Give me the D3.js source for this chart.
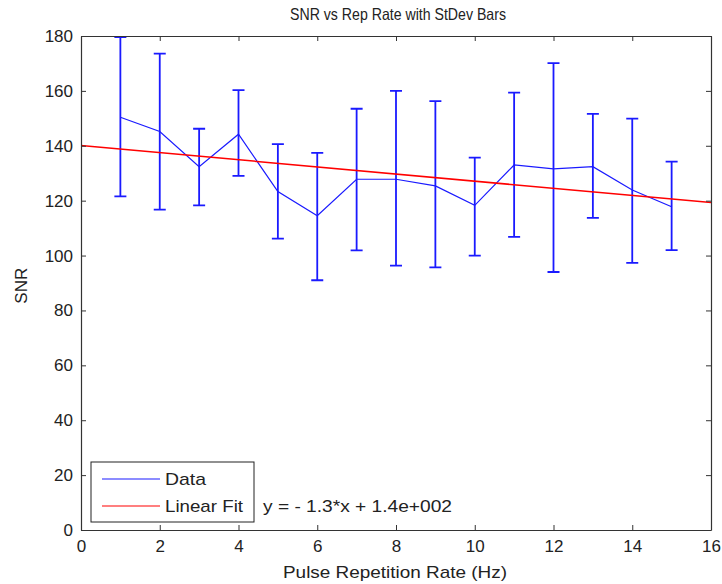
<!DOCTYPE html>
<html>
<head>
<meta charset="utf-8">
<script src="https://cdn.jsdelivr.net/npm/d3@7"></script>
<style>
  body { margin: 0; background: #fff; }
  text { font-family: "Liberation Sans", Arial, sans-serif; }
</style>
</head>
<body>
<div id="chart"></div>
<script>
// pulse rep rate (Hz) and SNR readings
var rates = [1, 2, 3, 4, 5, 6, 7, 8, 9, 10, 11, 12, 13, 14, 15]
var snrMean = [150.4, 145.2, 132.4, 144.2, 123.3, 114.5, 127.8, 127.8, 125.4, 118.3, 133.0, 131.6, 132.4, 123.9, 117.8]
var snrHigh = [179.6, 173.6, 146.2, 160.3, 140.6, 137.4, 153.5, 160.0, 156.3, 135.7, 159.4, 170.1, 151.6, 149.9, 134.2]
var snrLow = [121.6, 116.7, 118.3, 129.0, 106.2, 91.0, 101.9, 96.3, 95.7, 100.0, 106.8, 94.0, 113.7, 97.3, 102.0]
var fitSlope = -1.3
var fitIntercept = 140.1
var xTicks = [0, 2, 4, 6, 8, 10, 12, 14, 16]
var yTicks = [0, 20, 40, 60, 80, 100, 120, 140, 160, 180]

var width = 722
var height = 584
var margin = {top: 36, right: 11, bottom: 54, left: 81}

var svg = d3.select("#chart")
  .append("svg")
    .attr("width", width)
    .attr("height", height)

var x = d3.scaleLinear()
  .domain([0, 16])
  .range([margin.left, width - margin.right])

var y = d3.scaleLinear()
  .domain([0, 180])
  .range([height - margin.bottom, margin.top])

var plot = svg.append("g")

// clip so the fit line and bars stay inside the axes box
svg.append("clipPath").attr("id", "box")
  .append("rect")
    .attr("x", x(0)).attr("y", y(180))
    .attr("width", x(16) - x(0)).attr("height", y(0) - y(180))

var pts = rates.map(function(r, i) {
  return {x: r, m: snrMean[i], hi: snrHigh[i], lo: snrLow[i]}
})

var inner = plot.append("g").attr("clip-path", "url(#box)")

// error bars
var bars = inner.append("g")
  .attr("stroke", "#1a1aff")
  .attr("stroke-width", 1.8)
  .attr("fill", "none")

bars.selectAll("path")
  .data(pts)
  .enter()
  .append("path")
    .attr("d", function(d) {
      var cx = x(d.x), t = y(d.hi), b = y(d.lo), w = 6
      return "M" + cx + "," + t + "V" + b +
        "M" + (cx - w) + "," + t + "H" + (cx + w) +
        "M" + (cx - w) + "," + b + "H" + (cx + w)
    })

// mean line
inner.append("path")
  .datum(pts)
  .attr("fill", "none")
  .attr("stroke", "#1a1aff")
  .attr("stroke-width", 1.2)
  .attr("d", d3.line().x(function(d){ return x(d.x) }).y(function(d){ return y(d.m) }))

// linear fit
inner.append("path")
  .datum([0, 16])
  .attr("fill", "none")
  .attr("stroke", "#ff0000")
  .attr("stroke-width", 1.5)
  .attr("d", d3.line().x(function(d){ return x(d) }).y(function(d){ return y(fitIntercept + fitSlope * d) }))

// axes with inward ticks, box on
var tickLen = 5
var axisBottom = d3.axisBottom(x).tickValues(xTicks).tickSizeInner(-tickLen).tickSizeOuter(0).tickPadding(10)
var axisLeft = d3.axisLeft(y).tickValues(yTicks).tickSizeInner(-tickLen).tickSizeOuter(0).tickPadding(8)
var axisTop = d3.axisTop(x).tickValues(xTicks).tickSizeInner(-tickLen).tickSizeOuter(0).tickFormat("")
var axisRight = d3.axisRight(y).tickValues(yTicks).tickSizeInner(-tickLen).tickSizeOuter(0).tickFormat("")

function styleAxis(g) {
  g.selectAll("path").attr("stroke", "#333").attr("stroke-width", 1.2)
  g.selectAll("line").attr("stroke", "#333")
  g.selectAll("text")
    .attr("fill", "#222")
    .style("font-size", "17px")
    .style("font-family", "'Liberation Sans', Arial, sans-serif")
}

svg.append("g").attr("transform", "translate(0," + y(0) + ")").call(axisBottom).call(styleAxis)
svg.append("g").attr("transform", "translate(" + x(0) + ",0)").call(axisLeft).call(styleAxis)
svg.append("g").attr("transform", "translate(0," + y(180) + ")").call(axisTop).call(styleAxis)
svg.append("g").attr("transform", "translate(" + x(16) + ",0)").call(axisRight).call(styleAxis)

// title and labels
svg.append("text")
  .attr("x", 290)
  .attr("y", 20)
  .attr("textLength", 216)
  .attr("lengthAdjust", "spacingAndGlyphs")
  .style("font-size", "16.5px")
  .attr("fill", "#222")
  .text("SNR vs Rep Rate with StDev Bars")

svg.append("text")
  .attr("x", 283)
  .attr("y", 578)
  .attr("textLength", 224)
  .attr("lengthAdjust", "spacingAndGlyphs")
  .style("font-size", "17px")
  .attr("fill", "#222")
  .text("Pulse Repetition Rate (Hz)")

svg.append("text")
  .attr("transform", "translate(27," + y(89) + ") rotate(-90)")
  .attr("text-anchor", "middle")
  .style("font-size", "17px")
  .attr("fill", "#222")
  .text("SNR")

// legend
var legend = svg.append("g")
legend.append("rect")
  .attr("x", 91).attr("y", 462)
  .attr("width", 163).attr("height", 60)
  .attr("fill", "#fff")
  .attr("stroke", "#222")
  .attr("stroke-width", 1)

var legendItems = [{label: "Data", color: "#1a1aff", len: 41}, {label: "Linear Fit", color: "#ff0000", len: 78}]
legendItems.forEach(function(item, i) {
  var ly = 479 + i * 27
  legend.append("line")
    .attr("x1", 102).attr("x2", 160)
    .attr("y1", ly).attr("y2", ly)
    .attr("stroke", item.color)
    .attr("stroke-width", 1.2)
  legend.append("text")
    .attr("x", 165).attr("y", ly + 6)
    .attr("textLength", item.len)
    .attr("lengthAdjust", "spacingAndGlyphs")
    .style("font-size", "17px")
    .attr("fill", "#222")
    .text(item.label)
})

svg.append("text")
  .attr("x", 263).attr("y", 512)
  .attr("textLength", 189)
  .attr("lengthAdjust", "spacingAndGlyphs")
  .style("font-size", "17px")
  .attr("fill", "#222")
  .text("y = - 1.3*x + 1.4e+002")
</script>
</body>
</html>
